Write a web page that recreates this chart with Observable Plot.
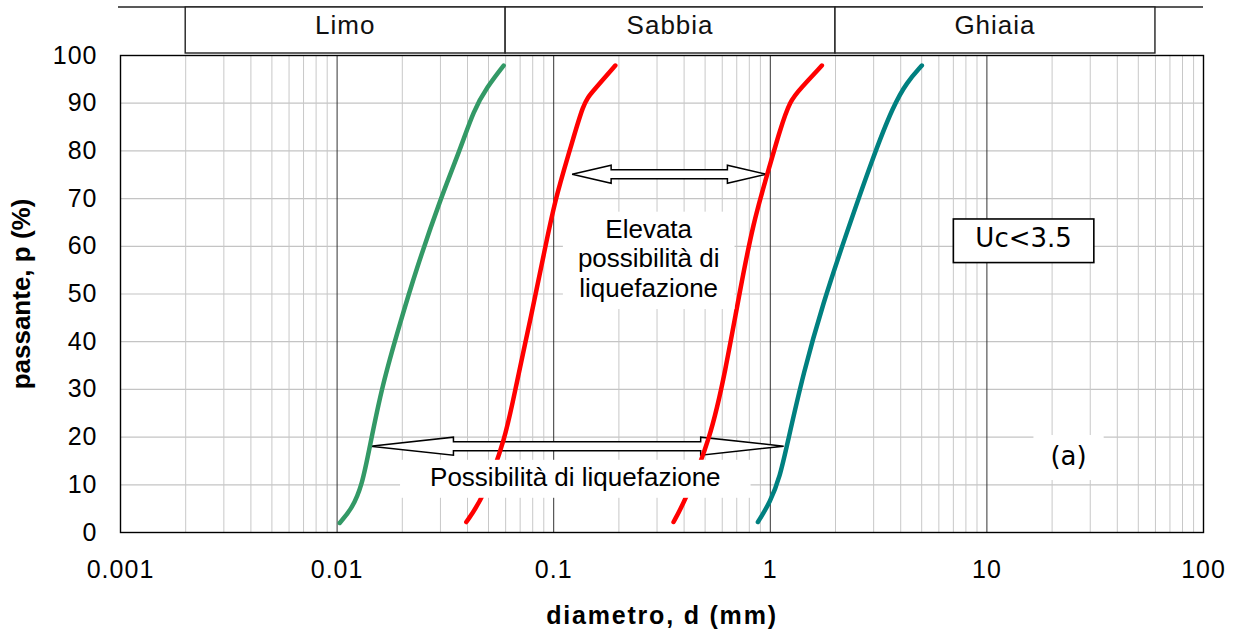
<!DOCTYPE html>
<html><head><meta charset="utf-8">
<script src="https://cdn.jsdelivr.net/npm/d3@7"></script>
<script src="https://cdn.jsdelivr.net/npm/@observablehq/plot@0.6"></script>
<style>
html,body{margin:0;padding:0;background:#fff;}
#chart svg{display:block;}
#chart g[aria-label="x-axis tick label"] text,
#chart g[aria-label="y-axis tick label"] text{letter-spacing:1px;}
</style></head><body><div id="chart"></div>
<script>
// ---------- data ----------
const xTicks = [0.001, 0.01, 0.1, 1, 10, 100];
const yTicks = [0, 10, 20, 30, 40, 50, 60, 70, 80, 90, 100];

const greenD = [0.01028, 0.01172, 0.01304, 0.01414, 0.01613, 0.01959, 0.02298, 0.02997, 0.03707, 0.0427, 0.04923, 0.05873];
const greenP = [2, 5, 9.9, 17.9, 30.8, 44.1, 54.6, 69.9, 80.4, 88.5, 93.4, 97.9];

const red1D = [0.0395, 0.0475, 0.0598, 0.0665, 0.0794, 0.0898, 0.1017, 0.1193, 0.1374, 0.1502, 0.1925];
const red1P = [2.2, 7.4, 19.6, 30.1, 46.2, 58.1, 70, 80.4, 90.2, 92.3, 97.9];

const red2D = [0.3575, 0.4049, 0.5281, 0.6195, 0.7263, 0.8365, 0.9646, 1.111, 1.235, 1.374, 1.73];
const red2P = [2.2, 6.7, 19.6, 33.6, 51.1, 65.1, 74.8, 84.6, 90.6, 93, 97.9];

const tealD = [0.8766, 1.0, 1.111, 1.193, 1.423, 1.76, 2.177, 2.994, 3.702, 4.27, 5.008];
const tealP = [2.2, 6.4, 11.9, 18.2, 33.6, 48.3, 60.9, 79, 89.5, 94.4, 97.9];

const bandNames = ["Limo", "Sabbia", "Ghiaia"];
const bandBounds = [0.002, 0.06, 2, 60];

const arrowP = [75, 18];
const arrowD1 = [0.1223, 0.01433];
const arrowD2 = [0.9645, 1.159];

const noteTexts = ["Possibilità di liquefazione", "Elevata\npossibilità di\nliquefazione", "Uc<3.5", "(a)"];
const noteD = [0.1265, 0.276, 14.85, 23.95];
const noteP = [11.65, 57.44, 61.8, 16.0];

// ---------- styles ----------
const SANS = "'Liberation Sans', Arial, Helvetica, sans-serif";
const DEJAVU = "'DejaVu Sans', sans-serif";
const arrowHead = [39, 83];
const noteStyle = [
  {font: SANS, size: 26, padX: 30, padTop: 2, padBottom: 6, border: false, lh: 29.7},
  {font: SANS, size: 26, padX: 15, padTop: 2, padBottom: 6, border: false, lh: 29.7},
  {font: DEJAVU, size: 26, padX: 22, padTop: 3.6, padBottom: 10, border: true, lh: 30},
  {font: DEJAVU, size: 26, padX: 17, padTop: 6, padBottom: 9, border: false, lh: 30}
];

const decades = [0.001, 0.01, 0.1, 1, 10];
const minor = decades.flatMap(d => [2,3,4,5,6,7,8,9].map(m => +(m * d).toPrecision(3)));

const toRows = (D, P) => D.map((d, i) => ({d, p: P[i]}));

function bandMark(index, scales, values, dim) {
  const g = d3.create("svg:g");
  const yTop = 7, yBot = 53;
  g.append("line").attr("x1", dim.marginLeft - 2).attr("x2", dim.width - dim.marginRight)
    .attr("y1", yTop).attr("y2", yTop).attr("stroke", "#222").attr("stroke-width", 1.4);
  bandNames.forEach((name, i) => {
    const x1 = scales.x(bandBounds[i]), x2 = scales.x(bandBounds[i + 1]);
    g.append("rect").attr("x", x1).attr("y", yTop).attr("width", x2 - x1).attr("height", yBot - yTop)
      .attr("fill", "#fff").attr("stroke", "#222").attr("stroke-width", 1.4);
    g.append("text").attr("x", (x1 + x2) / 2).attr("y", 34).attr("text-anchor", "middle")
      .attr("font-family", SANS).attr("font-size", 26).attr("letter-spacing", "1px").attr("fill", "#111").text(name);
  });
  return g.node();
}

function arrowsMark(index, scales) {
  const g = d3.create("svg:g");
  arrowP.forEach((p, i) => {
    const x1 = scales.x(arrowD1[i]), x2 = scales.x(arrowD2[i]), y = scales.y(p);
    const h = arrowHead[i], hh = 9, sh = 4.5;
    const pts = [[x1,y],[x1+h,y-hh],[x1+h,y-sh],[x2-h,y-sh],[x2-h,y-hh],[x2,y],[x2-h,y+hh],[x2-h,y+sh],[x1+h,y+sh],[x1+h,y+hh]];
    g.append("polygon").attr("points", pts.map(q => q.join(",")).join(" "))
      .attr("fill", "#fff").attr("stroke", "#000").attr("stroke-width", 1.5).attr("stroke-linejoin", "miter");
  });
  return g.node();
}

function notesMark(index, scales) {
  const g = d3.create("svg:g");
  noteTexts.forEach((t, i) => {
    const s = noteStyle[i];
    const lines = t.split("\n");
    const cx = scales.x(noteD[i]), cy = scales.y(noteP[i]);
    const ng = g.append("g").attr("class", "note").attr("data-i", i);
    ng.append("rect").attr("fill", "#fff").attr("stroke", s.border ? "#000" : "none").attr("stroke-width", 1.6);
    const tx = ng.append("text").attr("text-anchor", "middle").attr("font-family", s.font)
      .attr("font-size", s.size).attr("fill", "#000");
    lines.forEach((ln, j) => {
      tx.append("tspan").attr("x", cx)
        .attr("y", cy + (j - (lines.length - 1) / 2) * s.lh + 0.36 * s.size).text(ln);
    });
  });
  return g.node();
}

const lineOpts = {x: "d", y: "p", strokeWidth: 4.5, strokeLinecap: "round", strokeLinejoin: "round", curve: "basis"};

const chart = Plot.plot({
  width: 1239,
  height: 635,
  marginLeft: 120,
  marginRight: 36,
  marginTop: 55,
  marginBottom: 103,
  style: {fontFamily: SANS, fontSize: "25px", color: "#000", background: "#fff"},
  x: {type: "log", domain: [0.001, 100]},
  y: {domain: [0, 100]},
  marks: [
    Plot.ruleY(yTicks, {stroke: "#c4c4c4", strokeWidth: 1.2}),
    Plot.ruleX(minor, {stroke: "#c8c8c8", strokeWidth: 1}),
    Plot.ruleX(decades.slice(1), {stroke: "#333", strokeWidth: 1}),
    arrowsMark,
    Plot.line(toRows(greenD, greenP), {...lineOpts, stroke: "#339966"}),
    Plot.line(toRows(red1D, red1P), {...lineOpts, stroke: "#ff0000"}),
    Plot.line(toRows(red2D, red2P), {...lineOpts, stroke: "#ff0000"}),
    Plot.line(toRows(tealD, tealP), {...lineOpts, stroke: "#008080"}),
    notesMark,
    Plot.frame({stroke: "#000", strokeWidth: 1.4}),
    bandMark,
    Plot.axisX({ticks: xTicks, tickFormat: d => String(d), tickSize: 0, tickPadding: 28, label: null}),
    Plot.axisY({ticks: yTicks, tickFormat: d => String(d), tickSize: 0, tickPadding: 23, label: null}),
    Plot.text(["diametro, d (mm)"], {frameAnchor: "bottom", textAnchor: "middle", lineAnchor: "middle", dy: 83, fontWeight: "bold", fontSize: 25, fill: "#000"}),
    Plot.text(["passante, p (%)"], {frameAnchor: "left", textAnchor: "middle", lineAnchor: "middle", dx: -99, rotate: -90, fontWeight: "bold", fontSize: 26, fill: "#000"})
  ]
});

document.getElementById("chart").appendChild(chart);

// white / bordered boxes behind the annotation texts
chart.querySelectorAll("g.note").forEach(ng => {
  const i = +ng.getAttribute("data-i");
  const s = noteStyle[i];
  const b = ng.querySelector("text").getBBox();
  const r = ng.querySelector("rect");
  r.setAttribute("x", b.x - s.padX);
  r.setAttribute("width", b.width + 2 * s.padX);
  r.setAttribute("y", b.y - s.padTop);
  r.setAttribute("height", b.height + s.padTop + s.padBottom);
});
// letter spacing on the x title
chart.querySelectorAll("text").forEach(t => {
  if (t.textContent === "diametro, d (mm)") t.setAttribute("letter-spacing", "1.8px");
});
</script>
</body></html>
